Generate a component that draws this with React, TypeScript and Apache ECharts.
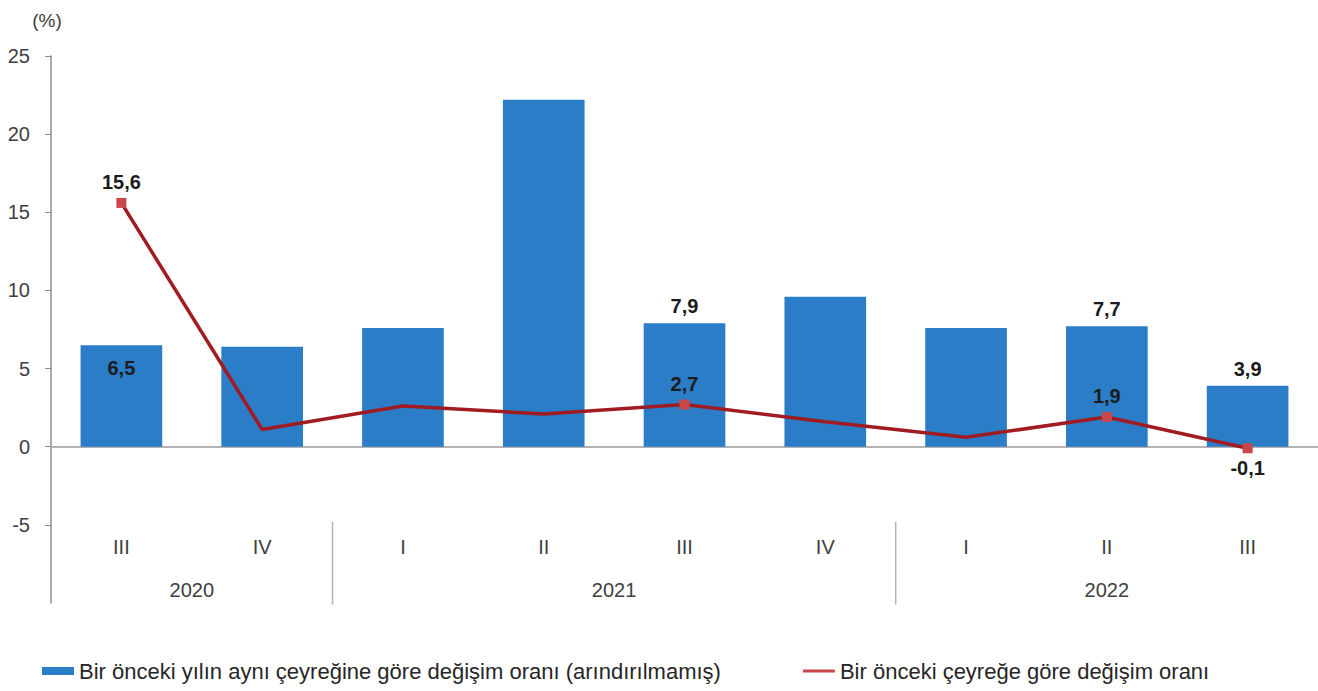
import React, { useEffect, useRef } from "react";
import * as echarts from "echarts";

const quarters = ["III", "IV", "I", "II", "III", "IV", "I", "II", "III"];
const years = ["2020", "2021", "2022"];
const yearSpans = [2, 4, 3];
const annualChange = [6.5, 6.4, 7.6, 22.2, 7.9, 9.6, 7.6, 7.7, 3.9];
const quarterlyChange = [15.6, 1.1, 2.6, 2.1, 2.7, 1.6, 0.6, 1.9, -0.1];
const labeledIdx = [0, 4, 7, 8];
const yTickValues = [-5, 0, 5, 10, 15, 20, 25];
const barName = "Bir önceki yılın aynı çeyreğine göre değişim oranı (arındırılmamış)";
const lineName = "Bir önceki çeyreğe göre değişim oranı";

const FONT = "'Liberation Sans', Arial, sans-serif";
const BLUE = "#2a7dc6";
const RED = "#a01c22";
const MARK = "#c8474a";
const LABEL = "#1c1c1c";
const AXIS_TEXT = "#404040";

const fmt = (v: number) => String(v).replace(".", ",");

export default function App() {
  const ref = useRef<HTMLDivElement>(null);
  useEffect(() => {
    if (!ref.current) return;
    const chart = echarts.init(ref.current, null, { renderer: "svg" });
    const labelStyle = { fontFamily: FONT, fontSize: 20, fontWeight: "bold", color: LABEL };
    const barData = annualChange.map((v, i) => {
      if (!labeledIdx.includes(i)) return v;
      return {
        value: v,
        label: {
          show: true,
          position: i === 0 ? "insideTop" : "top",
          distance: i === 0 ? 13 : 7,
          formatter: fmt(v),
          ...labelStyle,
        },
      };
    });
    const lineData = quarterlyChange.map((v, i) => {
      const on = labeledIdx.includes(i);
      return {
        value: v,
        symbolSize: on ? 10 : 0,
        label: {
          show: on,
          position: v < 0 ? "bottom" : "top",
          distance: v < 0 ? 5 : 6,
          formatter: fmt(v),
          ...labelStyle,
        },
      };
    });
    chart.setOption({
      animation: false,
      textStyle: { fontFamily: FONT },
      grid: { left: 51, right: 0, top: 56, bottom: 88, outerBoundsMode: "none", containLabel: false },
      legend: {
        left: 37,
        top: 655,
        itemWidth: 32,
        itemHeight: 8,
        itemGap: 82,
        textStyle: { fontFamily: FONT, fontSize: 22, color: "#262626" },
        data: [
          { name: barName, icon: "rect" },
          { name: lineName, icon: "path://M0,0 M0,2.5 L32,2.5 L32,5.5 L0,5.5 Z M32,8" },
        ],
      },
      xAxis: {
        type: "category",
        data: quarters,
        position: "bottom",
        axisLine: { show: false, onZero: false },
        axisTick: { show: false },
        axisLabel: { inside: true, margin: 46, fontSize: 20, color: AXIS_TEXT, fontFamily: FONT },
      },
      yAxis: {
        type: "value",
        min: -10,
        max: 25,
        interval: 5,
        name: "(%)",
        nameLocation: "end",
        nameGap: 26,
        nameTextStyle: { fontSize: 19, color: AXIS_TEXT, fontFamily: FONT, align: "center", padding: [0, 0, 0, -8] },
        axisLine: { show: true, lineStyle: { color: "#8c8c8c", width: 1.5 } },
        axisTick: { show: true, length: 6, lineStyle: { color: "#8c8c8c" }, customValues: yTickValues },
        axisLabel: {
          margin: 21,
          fontSize: 20,
          color: AXIS_TEXT,
          fontFamily: FONT,
          customValues: yTickValues,
          formatter: (v: number) => (yTickValues.includes(v) ? String(v) : ""),
        },
        splitLine: { show: false },
      },
      series: [
        {
          name: barName,
          type: "bar",
          data: barData,
          barWidth: "58%",
          itemStyle: { color: BLUE },
          z: 2,
          markLine: {
            silent: true,
            symbol: "none",
            label: { show: false },
            lineStyle: { color: "#b3b3b3", width: 2, type: "solid" },
            data: [{ yAxis: 0 }],
            z: 1,
          },
        },
        {
          name: lineName,
          type: "line",
          data: lineData,
          symbol: "rect",
          showSymbol: true,
          itemStyle: { color: MARK },
          lineStyle: { color: RED, width: 3.5 },
          z: 3,
        },
      ],
    });

    // year group labels and separators, positioned through the axes' scales
    const px = (i: number) => chart.convertToPixel({ xAxisIndex: 0 }, i) as number;
    const py = (v: number) => chart.convertToPixel({ yAxisIndex: 0 }, v) as number;
    const graphics: any[] = [];
    let start = 0;
    const sepTop = py(-4.8);
    const sepBottom = py(-10.1);
    years.forEach((y, k) => {
      const end = start + yearSpans[k] - 1;
      const cx = (px(start) + px(end)) / 2;
      graphics.push({
        type: "text",
        x: cx,
        y: py(-9.2),
        style: { text: y, fontFamily: FONT, fontSize: 20, fill: AXIS_TEXT, align: "center", verticalAlign: "middle" },
      });
      if (k < years.length - 1) {
        const bx = (px(end) + px(end + 1)) / 2;
        graphics.push({
          type: "line",
          shape: { x1: bx, y1: sepTop, x2: bx, y2: sepBottom },
          style: { stroke: "#b3b3b3", lineWidth: 1.5 },
        });
      }
      start = end + 1;
    });
    chart.setOption({ graphic: graphics });

    return () => chart.dispose();
  }, []);
  return <div ref={ref} style={{ position: "absolute", left: 0, top: 0, width: 1318, height: 691 }} />;
}
